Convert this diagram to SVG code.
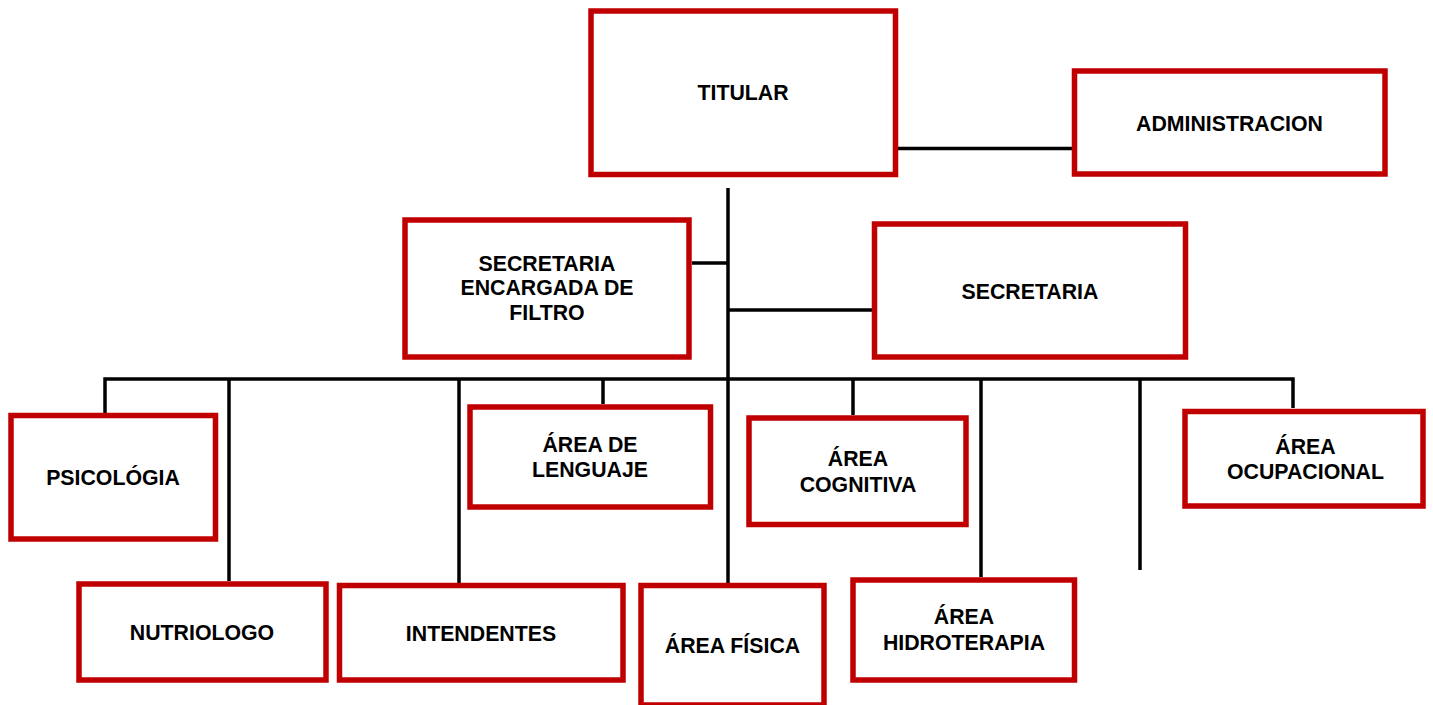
<svg xmlns="http://www.w3.org/2000/svg" width="1433" height="705" viewBox="0 0 1433 705">
<style>
.box{fill:#fff;stroke:#C00000;stroke-width:5.5}
.lbl{font-family:"Liberation Sans",Arial,sans-serif;font-weight:bold;font-size:21.3px;fill:#000;text-anchor:middle}
.ln{fill:none;stroke:#000;stroke-width:3.5}
</style>
<rect width="1433" height="705" fill="#fff"/>
<g id="connectors">
<line class="ln" x1="898" y1="148.5" x2="1072" y2="148.5"/>
<line class="ln" x1="728" y1="188" x2="728" y2="583"/>
<line class="ln" x1="692" y1="263" x2="728" y2="263"/>
<line class="ln" x1="728" y1="310" x2="872" y2="310"/>
<polyline class="ln" points="105,413 105,379 1293,379 1293,408"/>
<line class="ln" x1="229" y1="379" x2="229" y2="581"/>
<line class="ln" x1="459" y1="379" x2="459" y2="583"/>
<line class="ln" x1="603" y1="379" x2="603" y2="404"/>
<line class="ln" x1="853" y1="379" x2="853" y2="415"/>
<line class="ln" x1="981" y1="379" x2="981" y2="577"/>
<line class="ln" x1="1140" y1="379" x2="1140" y2="570"/>
</g>
<g id="titular"><rect class="box" x="591" y="11" width="304.5" height="163.5"/><text class="lbl" x="743" y="100">TITULAR</text></g>
<g id="administracion"><rect class="box" x="1074.5" y="71" width="310.5" height="103"/><text class="lbl" x="1229.5" y="131">ADMINISTRACION</text></g>
<g id="secretaria-filtro"><rect class="box" x="405" y="220" width="284" height="137"/><text class="lbl" x="547" y="271">SECRETARIA</text><text class="lbl" x="547" y="295">ENCARGADA DE</text><text class="lbl" x="547" y="320">FILTRO</text></g>
<g id="secretaria"><rect class="box" x="874.5" y="224" width="311" height="133"/><text class="lbl" x="1030" y="299">SECRETARIA</text></g>
<g id="psicologia"><rect class="box" x="11" y="415.5" width="204.5" height="123.5"/><text class="lbl" x="113" y="485">PSICOLÓGIA</text></g>
<g id="area-lenguaje"><rect class="box" x="470" y="407" width="240.5" height="100"/><text class="lbl" x="590" y="452">ÁREA DE</text><text class="lbl" x="590" y="477">LENGUAJE</text></g>
<g id="area-cognitiva"><rect class="box" x="749" y="418" width="217" height="106.5"/><text class="lbl" x="858" y="466">ÁREA</text><text class="lbl" x="858" y="492">COGNITIVA</text></g>
<g id="area-ocupacional"><rect class="box" x="1185" y="411.5" width="238" height="94.5"/><text class="lbl" x="1305.5" y="454">ÁREA</text><text class="lbl" x="1305.5" y="479">OCUPACIONAL</text></g>
<g id="nutriologo"><rect class="box" x="79" y="584" width="247" height="96"/><text class="lbl" x="202" y="640">NUTRIOLOGO</text></g>
<g id="intendentes"><rect class="box" x="339.5" y="585.5" width="283.5" height="94.5"/><text class="lbl" x="481" y="641">INTENDENTES</text></g>
<g id="area-fisica"><rect class="box" x="641" y="585.5" width="183" height="119.5"/><text class="lbl" x="732.5" y="653">ÁREA FÍSICA</text></g>
<g id="area-hidroterapia"><rect class="box" x="853" y="580" width="221.5" height="100"/><text class="lbl" x="964" y="624">ÁREA</text><text class="lbl" x="964" y="650">HIDROTERAPIA</text></g>
</svg>
